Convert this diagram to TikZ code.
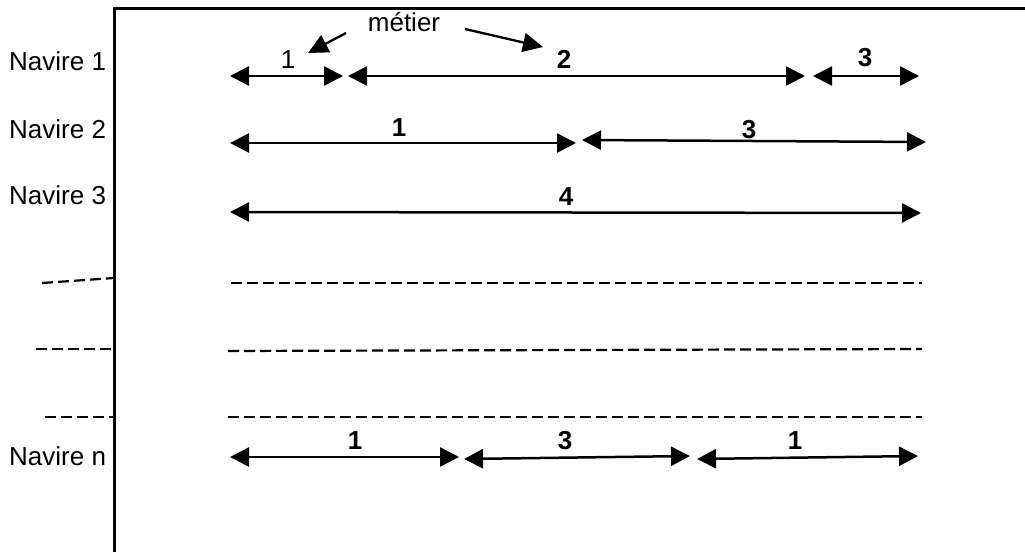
\documentclass[tikz,border=0pt]{standalone}
\usepackage{fontspec}
\setmainfont{Liberation Sans}
\usetikzlibrary{arrows.meta}
\begin{document}
\begin{tikzpicture}[x=1pt,y=-1pt,
  txt/.style={inner sep=0pt,font=\fontsize{26}{30}\selectfont},
  num/.style={inner sep=0pt,font=\fontsize{26}{30}\selectfont\bfseries},
  seg/.style={line width=2.5pt,{Triangle[length=19pt,width=19pt]}-{Triangle[length=19pt,width=19pt]}},
  pointer/.style={line width=2.3pt,-{Triangle[length=20pt,width=19pt]}},
  dashline/.style={line width=2.2pt,dash pattern=on 11pt off 5pt},
  frame/.style={line width=3pt}]
\useasboundingbox (0,0) rectangle (1025,552);
\fill[white] (0,0) rectangle (1025,552);
% frame
\coordinate (fb) at (114,552);
\coordinate (fc) at (114,8);
\coordinate (fr) at (1025,8);
\draw[frame] (fb) -- (fc) -- (fr);
% row labels
\node[txt,anchor=west] (n1) at (9,61) {Navire 1};
\node[txt,anchor=west] (n2) at (9,129) {Navire 2};
\node[txt,anchor=west] (n3) at (9,195) {Navire 3};
\node[txt,anchor=west] (nn) at (9,456) {Navire n};
% metier
\node[txt] (met) at (404,22) {métier};
\coordinate (m1s) at (346,33);
\coordinate (m1e) at (308,53);
\coordinate (m2s) at (465,29);
\coordinate (m2e) at (543,47);
\draw[pointer] (m1s) -- (m1e);
\draw[pointer] (m2s) -- (m2e);
% row 1
\coordinate (a1) at (230,76); \coordinate (a2) at (343,76);
\coordinate (a3) at (348,76); \coordinate (a4) at (805,76);
\coordinate (a5) at (813,76); \coordinate (a6) at (919,76);
\draw[seg] (a1) -- (a2);
\draw[seg] (a3) -- (a4);
\draw[seg] (a5) -- (a6);
\node[txt] (l11) at (288,60) {1};
\node[num] (l12) at (564,59) {2};
\node[num] (l13) at (865,58) {3};
% row 2
\coordinate (b1) at (230,143); \coordinate (b2) at (576,143);
\coordinate (b3) at (582,140); \coordinate (b4) at (926,142);
\draw[seg] (b1) -- (b2);
\draw[seg] (b3) -- (b4);
\node[num] (l21) at (399,128) {1};
\node[num] (l23) at (749,130) {3};
% row 3
\coordinate (c1) at (230,212); \coordinate (c2) at (921,213);
\draw[seg] (c1) -- (c2);
\node[num] (l34) at (566,197) {4};
% dashed rows
\coordinate (d1l) at (42,283); \coordinate (d1r) at (114,278);
\coordinate (d1a) at (231,283); \coordinate (d1b) at (922,283);
\coordinate (d2l) at (36,349); \coordinate (d2r) at (114,349);
\coordinate (d2a) at (228,351); \coordinate (d2b) at (922,349);
\coordinate (d3l) at (45,417); \coordinate (d3r) at (114,417);
\coordinate (d3a) at (228,417); \coordinate (d3b) at (922,417);
\draw[dashline] (d1l) -- (d1r);
\draw[dashline] (d1a) -- (d1b);
\draw[dashline] (d2l) -- (d2r);
\draw[dashline] (d2a) -- (d2b);
\draw[dashline] (d3l) -- (d3r);
\draw[dashline] (d3a) -- (d3b);
% row n
\coordinate (e1) at (230,457); \coordinate (e2) at (459,457);
\coordinate (e3) at (464,459); \coordinate (e4) at (690,456);
\coordinate (e5) at (697,459); \coordinate (e6) at (918,456);
\draw[seg] (e1) -- (e2);
\draw[seg] (e3) -- (e4);
\draw[seg] (e5) -- (e6);
\node[num] (ln1) at (355,441) {1};
\node[num] (ln3) at (565,441) {3};
\node[num] (ln5) at (795,441) {1};
\end{tikzpicture}
\end{document}
